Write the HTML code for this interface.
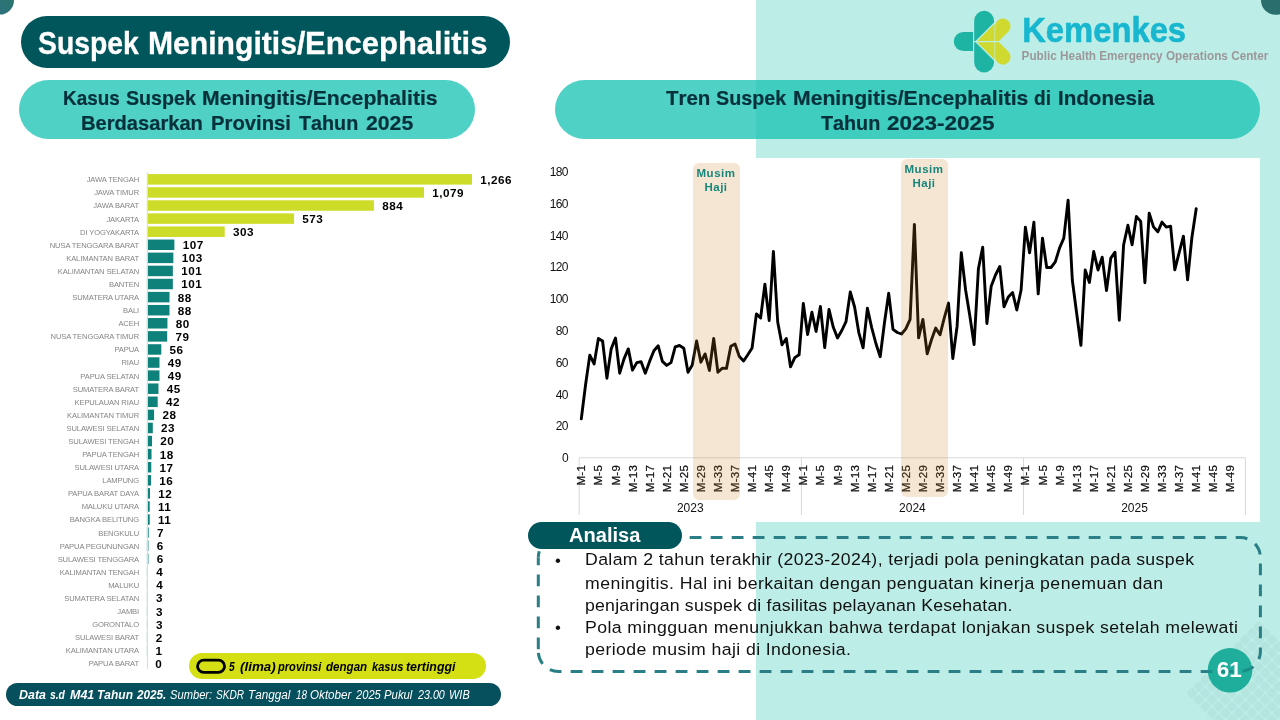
<!DOCTYPE html>
<html lang="id">
<head>
<meta charset="utf-8">
<title>Suspek Meningitis/Encephalitis</title>
<style>
html,body{margin:0;padding:0;}
body{width:1280px;height:720px;overflow:hidden;background:#fff;position:relative;font-family:"Liberation Sans",sans-serif;}
.abs{position:absolute;}
.mint{left:756px;top:0;width:524px;height:720px;background:#bdede7;}
.panel{left:545px;top:157.5px;width:715px;height:364px;background:#fff;}
.pill{border-radius:999px;}
.title{left:21px;top:16px;width:489px;height:52px;background:#00565a;}
.sub1{left:19px;top:80px;width:456px;height:59px;background:rgba(17,193,177,0.74);}
.sub2{left:555px;top:80px;width:704.7px;height:59px;background:rgba(17,193,177,0.74);}
.t{white-space:nowrap;transform-origin:0 0;line-height:1;font-kerning:none;}
.ttl{color:#fff;font-weight:bold;-webkit-text-stroke:0.3px #fff;}
.leg{color:#000;font-weight:bold;font-style:italic;}
.fta{color:#fff;font-weight:bold;font-style:italic;}
.ftb{color:#fff;font-style:italic;}
.ana{color:#fff;font-weight:bold;}
.subt{color:#06303a;font-weight:bold;-webkit-text-stroke:0.2px #06303a;}
.legend{left:189.2px;top:653.1px;width:296.8px;height:25.7px;background:#d5e014;}
.footer{left:6px;top:683px;width:495px;height:23px;background:#064f5c;}
.analisa{left:528px;top:522px;width:154px;height:26.5px;background:#00565a;}
.badge{left:1207.7px;top:648px;width:44.6px;height:44.6px;border-radius:50%;}
svg text.pl{font-size:7.6px;fill:#858585;letter-spacing:-0.13px;}
svg text.pv{font-size:11.7px;font-weight:bold;fill:#000;letter-spacing:0.5px;}
svg text.ax{font-size:12px;fill:#111;}
svg text.ay{letter-spacing:-0.55px;}
svg text.axr{stroke:#111;stroke-width:0.25px;font-size:11.5px;letter-spacing:0.3px;}
svg text.mh{font-size:11.5px;font-weight:bold;fill:#17857c;letter-spacing:0.5px;}
.body{color:#111;font-size:16.7px;}
</style>
</head>
<body>
<div class="abs mint"></div>
<div class="abs panel"></div>

<div class="abs pill title"></div>
<div class="abs pill sub1"></div>
<div class="abs pill sub2"></div>
<div><span class="abs t ttl" id="tt0" style="left:37.93px;transform:scaleX(0.9140);top:27.80px;font-size:31px;">Suspek</span> <span class="abs t ttl" id="tt1" style="left:147.98px;transform:scaleX(0.9717);top:27.80px;font-size:31px;">Meningitis/</span> <span class="abs t ttl" id="tt2" style="left:305.43px;transform:scaleX(0.9991);top:27.80px;font-size:31px;">Encephalitis</span></div>
<div><span class="abs t subt" id="sa0" style="left:63.14px;transform:scaleX(0.9596);top:88.65px;font-size:19.7px;">Kasus</span> <span class="abs t subt" id="sa1" style="left:125.68px;transform:scaleX(0.9975);top:88.65px;font-size:19.7px;">Suspek</span> <span class="abs t subt" id="sa2" style="left:201.98px;transform:scaleX(1.0770);top:88.65px;font-size:19.7px;">Meningitis/Encephalitis</span> <span class="abs t subt" id="sb0" style="left:81.15px;transform:scaleX(1.0220);top:113.65px;font-size:19.7px;">Berdasarkan</span> <span class="abs t subt" id="sb1" style="left:211.44px;transform:scaleX(1.0291);top:113.65px;font-size:19.7px;">Provinsi</span> <span class="abs t subt" id="sb2" style="left:299.48px;transform:scaleX(1.0026);top:113.65px;font-size:19.7px;">Tahun</span> <span class="abs t subt" id="sb3" style="left:366.16px;transform:scaleX(1.0776);top:113.65px;font-size:19.7px;">2025</span></div>
<div><span class="abs t subt" id="sc0" style="left:665.67px;transform:scaleX(1.0401);top:88.65px;font-size:19.7px;">Tren</span> <span class="abs t subt" id="sc1" style="left:716.03px;transform:scaleX(1.0010);top:88.65px;font-size:19.7px;">Suspek</span> <span class="abs t subt" id="sc2" style="left:792.58px;transform:scaleX(1.0757);top:88.65px;font-size:19.7px;">Meningitis/Encephalitis</span> <span class="abs t subt" id="sc3" style="left:1034.22px;transform:scaleX(0.9671);top:88.65px;font-size:19.7px;">di</span> <span class="abs t subt" id="sc4" style="left:1057.82px;transform:scaleX(1.0457);top:88.65px;font-size:19.7px;">Indonesia</span> <span class="abs t subt" id="sd0" style="left:820.68px;transform:scaleX(1.0035);top:113.65px;font-size:19.7px;">Tahun</span> <span class="abs t subt" id="sd1" style="left:886.92px;transform:scaleX(1.1433);top:113.65px;font-size:19.7px;">2023-2025</span></div>

<svg class="abs" style="left:0;top:0" width="1280" height="720" viewBox="0 0 1280 720" font-family="'Liberation Sans',sans-serif">
<g fill="rgba(70,125,125,0.07)"><rect x="1254.4" y="622.3" width="8.4" height="8.4" rx="2.4" transform="rotate(45 1258.6 626.5)"/><rect x="1247.8" y="629.0" width="8.4" height="8.4" rx="2.4" transform="rotate(45 1252.0 633.2)"/><rect x="1241.1" y="635.6" width="8.4" height="8.4" rx="2.4" transform="rotate(45 1245.3 639.8)"/><rect x="1234.5" y="642.3" width="8.4" height="8.4" rx="2.4" transform="rotate(45 1238.7 646.5)"/><rect x="1227.8" y="648.9" width="8.4" height="8.4" rx="2.4" transform="rotate(45 1232.0 653.1)"/><rect x="1221.2" y="655.6" width="8.4" height="8.4" rx="2.4" transform="rotate(45 1225.4 659.8)"/><rect x="1214.5" y="662.2" width="8.4" height="8.4" rx="2.4" transform="rotate(45 1218.7 666.4)"/><rect x="1207.9" y="668.9" width="8.4" height="8.4" rx="2.4" transform="rotate(45 1212.1 673.1)"/><rect x="1201.2" y="675.5" width="8.4" height="8.4" rx="2.4" transform="rotate(45 1205.4 679.7)"/><rect x="1194.6" y="682.2" width="8.4" height="8.4" rx="2.4" transform="rotate(45 1198.8 686.4)"/><rect x="1187.9" y="688.8" width="8.4" height="8.4" rx="2.4" transform="rotate(45 1192.1 693.0)"/><rect x="1261.0" y="629.0" width="8.4" height="8.4" rx="2.4" transform="rotate(45 1265.2 633.2)"/><rect x="1254.4" y="635.6" width="8.4" height="8.4" rx="2.4" transform="rotate(45 1258.6 639.8)"/><rect x="1247.8" y="642.3" width="8.4" height="8.4" rx="2.4" transform="rotate(45 1252.0 646.5)"/><rect x="1241.1" y="648.9" width="8.4" height="8.4" rx="2.4" transform="rotate(45 1245.3 653.1)"/><rect x="1234.5" y="655.6" width="8.4" height="8.4" rx="2.4" transform="rotate(45 1238.7 659.8)"/><rect x="1227.8" y="662.2" width="8.4" height="8.4" rx="2.4" transform="rotate(45 1232.0 666.4)"/><rect x="1221.2" y="668.9" width="8.4" height="8.4" rx="2.4" transform="rotate(45 1225.4 673.1)"/><rect x="1214.5" y="675.5" width="8.4" height="8.4" rx="2.4" transform="rotate(45 1218.7 679.7)"/><rect x="1207.9" y="682.2" width="8.4" height="8.4" rx="2.4" transform="rotate(45 1212.1 686.4)"/><rect x="1201.2" y="688.8" width="8.4" height="8.4" rx="2.4" transform="rotate(45 1205.4 693.0)"/><rect x="1194.6" y="695.4" width="8.4" height="8.4" rx="2.4" transform="rotate(45 1198.8 699.6)"/><rect x="1267.7" y="635.6" width="8.4" height="8.4" rx="2.4" transform="rotate(45 1271.9 639.8)"/><rect x="1261.0" y="642.3" width="8.4" height="8.4" rx="2.4" transform="rotate(45 1265.2 646.5)"/><rect x="1254.4" y="648.9" width="8.4" height="8.4" rx="2.4" transform="rotate(45 1258.6 653.1)"/><rect x="1247.8" y="655.6" width="8.4" height="8.4" rx="2.4" transform="rotate(45 1252.0 659.8)"/><rect x="1241.1" y="662.2" width="8.4" height="8.4" rx="2.4" transform="rotate(45 1245.3 666.4)"/><rect x="1234.5" y="668.9" width="8.4" height="8.4" rx="2.4" transform="rotate(45 1238.7 673.1)"/><rect x="1227.8" y="675.5" width="8.4" height="8.4" rx="2.4" transform="rotate(45 1232.0 679.7)"/><rect x="1221.2" y="682.2" width="8.4" height="8.4" rx="2.4" transform="rotate(45 1225.4 686.4)"/><rect x="1214.5" y="688.8" width="8.4" height="8.4" rx="2.4" transform="rotate(45 1218.7 693.0)"/><rect x="1207.9" y="695.4" width="8.4" height="8.4" rx="2.4" transform="rotate(45 1212.1 699.6)"/><rect x="1201.2" y="702.1" width="8.4" height="8.4" rx="2.4" transform="rotate(45 1205.4 706.3)"/><rect x="1274.3" y="642.3" width="8.4" height="8.4" rx="2.4" transform="rotate(45 1278.5 646.5)"/><rect x="1267.7" y="648.9" width="8.4" height="8.4" rx="2.4" transform="rotate(45 1271.9 653.1)"/><rect x="1261.0" y="655.6" width="8.4" height="8.4" rx="2.4" transform="rotate(45 1265.2 659.8)"/><rect x="1254.4" y="662.2" width="8.4" height="8.4" rx="2.4" transform="rotate(45 1258.6 666.4)"/><rect x="1247.8" y="668.9" width="8.4" height="8.4" rx="2.4" transform="rotate(45 1252.0 673.1)"/><rect x="1241.1" y="675.5" width="8.4" height="8.4" rx="2.4" transform="rotate(45 1245.3 679.7)"/><rect x="1234.5" y="682.2" width="8.4" height="8.4" rx="2.4" transform="rotate(45 1238.7 686.4)"/><rect x="1227.8" y="688.8" width="8.4" height="8.4" rx="2.4" transform="rotate(45 1232.0 693.0)"/><rect x="1221.2" y="695.4" width="8.4" height="8.4" rx="2.4" transform="rotate(45 1225.4 699.6)"/><rect x="1214.5" y="702.1" width="8.4" height="8.4" rx="2.4" transform="rotate(45 1218.7 706.3)"/><rect x="1207.9" y="708.7" width="8.4" height="8.4" rx="2.4" transform="rotate(45 1212.1 712.9)"/><rect x="1281.0" y="648.9" width="8.4" height="8.4" rx="2.4" transform="rotate(45 1285.2 653.1)"/><rect x="1274.3" y="655.6" width="8.4" height="8.4" rx="2.4" transform="rotate(45 1278.5 659.8)"/><rect x="1267.7" y="662.2" width="8.4" height="8.4" rx="2.4" transform="rotate(45 1271.9 666.4)"/><rect x="1261.0" y="668.9" width="8.4" height="8.4" rx="2.4" transform="rotate(45 1265.2 673.1)"/><rect x="1254.4" y="675.5" width="8.4" height="8.4" rx="2.4" transform="rotate(45 1258.6 679.7)"/><rect x="1247.8" y="682.2" width="8.4" height="8.4" rx="2.4" transform="rotate(45 1252.0 686.4)"/><rect x="1241.1" y="688.8" width="8.4" height="8.4" rx="2.4" transform="rotate(45 1245.3 693.0)"/><rect x="1234.5" y="695.4" width="8.4" height="8.4" rx="2.4" transform="rotate(45 1238.7 699.6)"/><rect x="1227.8" y="702.1" width="8.4" height="8.4" rx="2.4" transform="rotate(45 1232.0 706.3)"/><rect x="1221.2" y="708.7" width="8.4" height="8.4" rx="2.4" transform="rotate(45 1225.4 712.9)"/><rect x="1214.5" y="715.4" width="8.4" height="8.4" rx="2.4" transform="rotate(45 1218.7 719.6)"/><rect x="1281.0" y="662.2" width="8.4" height="8.4" rx="2.4" transform="rotate(45 1285.2 666.4)"/><rect x="1274.3" y="668.9" width="8.4" height="8.4" rx="2.4" transform="rotate(45 1278.5 673.1)"/><rect x="1267.7" y="675.5" width="8.4" height="8.4" rx="2.4" transform="rotate(45 1271.9 679.7)"/><rect x="1261.0" y="682.2" width="8.4" height="8.4" rx="2.4" transform="rotate(45 1265.2 686.4)"/><rect x="1254.4" y="688.8" width="8.4" height="8.4" rx="2.4" transform="rotate(45 1258.6 693.0)"/><rect x="1247.8" y="695.4" width="8.4" height="8.4" rx="2.4" transform="rotate(45 1252.0 699.6)"/><rect x="1241.1" y="702.1" width="8.4" height="8.4" rx="2.4" transform="rotate(45 1245.3 706.3)"/><rect x="1234.5" y="708.7" width="8.4" height="8.4" rx="2.4" transform="rotate(45 1238.7 712.9)"/><rect x="1227.8" y="715.4" width="8.4" height="8.4" rx="2.4" transform="rotate(45 1232.0 719.6)"/><rect x="1221.2" y="722.0" width="8.4" height="8.4" rx="2.4" transform="rotate(45 1225.4 726.2)"/><rect x="1281.0" y="675.5" width="8.4" height="8.4" rx="2.4" transform="rotate(45 1285.2 679.7)"/><rect x="1274.3" y="682.2" width="8.4" height="8.4" rx="2.4" transform="rotate(45 1278.5 686.4)"/><rect x="1267.7" y="688.8" width="8.4" height="8.4" rx="2.4" transform="rotate(45 1271.9 693.0)"/><rect x="1261.0" y="695.4" width="8.4" height="8.4" rx="2.4" transform="rotate(45 1265.2 699.6)"/><rect x="1254.4" y="702.1" width="8.4" height="8.4" rx="2.4" transform="rotate(45 1258.6 706.3)"/><rect x="1247.8" y="708.7" width="8.4" height="8.4" rx="2.4" transform="rotate(45 1252.0 712.9)"/><rect x="1241.1" y="715.4" width="8.4" height="8.4" rx="2.4" transform="rotate(45 1245.3 719.6)"/><rect x="1234.5" y="722.0" width="8.4" height="8.4" rx="2.4" transform="rotate(45 1238.7 726.2)"/><rect x="1281.0" y="688.8" width="8.4" height="8.4" rx="2.4" transform="rotate(45 1285.2 693.0)"/><rect x="1274.3" y="695.4" width="8.4" height="8.4" rx="2.4" transform="rotate(45 1278.5 699.6)"/><rect x="1267.7" y="702.1" width="8.4" height="8.4" rx="2.4" transform="rotate(45 1271.9 706.3)"/><rect x="1261.0" y="708.7" width="8.4" height="8.4" rx="2.4" transform="rotate(45 1265.2 712.9)"/><rect x="1254.4" y="715.4" width="8.4" height="8.4" rx="2.4" transform="rotate(45 1258.6 719.6)"/><rect x="1247.8" y="722.0" width="8.4" height="8.4" rx="2.4" transform="rotate(45 1252.0 726.2)"/><rect x="1281.0" y="702.1" width="8.4" height="8.4" rx="2.4" transform="rotate(45 1285.2 706.3)"/><rect x="1274.3" y="708.7" width="8.4" height="8.4" rx="2.4" transform="rotate(45 1278.5 712.9)"/><rect x="1267.7" y="715.4" width="8.4" height="8.4" rx="2.4" transform="rotate(45 1271.9 719.6)"/><rect x="1261.0" y="722.0" width="8.4" height="8.4" rx="2.4" transform="rotate(45 1265.2 726.2)"/><rect x="1281.0" y="715.4" width="8.4" height="8.4" rx="2.4" transform="rotate(45 1285.2 719.6)"/><rect x="1274.3" y="722.0" width="8.4" height="8.4" rx="2.4" transform="rotate(45 1278.5 726.2)"/></g>
<!-- corner circles -->
<defs><linearGradient id="cg" x1="0" y1="1" x2="1" y2="0"><stop offset="0" stop-color="#2f6c84"/><stop offset="1" stop-color="#287a69"/></linearGradient></defs>
<circle cx="-0.3" cy="0.3" r="14.3" fill="url(#cg)"/>
<circle cx="1275.5" cy="0.3" r="14.5" fill="#2a6f6d"/>


<!-- logo -->
<g transform="translate(948,6) scale(0.1)">
<path d="M250,260 L153,260 A95,95 0 0 0 153,450 L250,450 Z" fill="#1eb4a4"/>
<path d="M262,147 A99,99 0 0 1 460,147 L460,165 L275,350 L262,350 Z" fill="#1eb4a4"/>
<path d="M262,565 A99,99 0 0 0 460,565 L460,547 L275,362 L262,362 Z" fill="#1eb4a4"/>
<path d="M292,350 L465,177 L465,350 Z" fill="#d0d92f"/>
<path d="M292,362 L465,535 L465,362 Z" fill="#d0d92f"/>
<path d="M472,350 L472,203 A76.5,77 0 1 1 602.4,257.4 L510,350 Z" fill="#d0d92f"/>
<path d="M472,362 L472,509 A76.5,77 0 1 0 602.4,454.6 L510,362 Z" fill="#d0d92f"/>
</g>
<text id="t_kem" x="1022.2" y="41.5" font-size="34.4" font-weight="bold" fill="#17b7cf" stroke="#17b7cf" stroke-width="0.6" stroke-linejoin="round" textLength="163.9" lengthAdjust="spacingAndGlyphs">Kemenkes</text>
<text id="t_phe" x="1021.6" y="59.6" font-size="12" font-weight="bold" fill="#9c9799" textLength="246.8" lengthAdjust="spacingAndGlyphs">Public Health Emergency Operations Center</text>

<!-- bar chart -->
<rect x="146.9" y="174.10" width="325.11" height="10.5" fill="#cddc28"/>
<text class="pl" x="139" y="182.25" text-anchor="end">JAWA TENGAH</text>
<text class="pv" x="480.31" y="183.75">1,266</text>
<rect x="146.9" y="187.19" width="277.09" height="10.5" fill="#cddc28"/>
<text class="pl" x="139" y="195.34" text-anchor="end">JAWA TIMUR</text>
<text class="pv" x="432.29" y="196.84">1,079</text>
<rect x="146.9" y="200.27" width="227.01" height="10.5" fill="#cddc28"/>
<text class="pl" x="139" y="208.42" text-anchor="end">JAWA BARAT</text>
<text class="pv" x="382.21" y="209.92">884</text>
<rect x="146.9" y="213.35" width="147.15" height="10.5" fill="#cddc28"/>
<text class="pl" x="139" y="221.50" text-anchor="end">JAKARTA</text>
<text class="pv" x="302.35" y="223.00">573</text>
<rect x="146.9" y="226.44" width="77.81" height="10.5" fill="#cddc28"/>
<text class="pl" x="139" y="234.59" text-anchor="end">DI YOGYAKARTA</text>
<text class="pv" x="233.01" y="236.09">303</text>
<rect x="146.9" y="239.53" width="27.48" height="10.5" fill="#0f817b"/>
<text class="pl" x="139" y="247.68" text-anchor="end">NUSA TENGGARA BARAT</text>
<text class="pv" x="182.68" y="249.18">107</text>
<rect x="146.9" y="252.61" width="26.45" height="10.5" fill="#0f817b"/>
<text class="pl" x="139" y="260.76" text-anchor="end">KALIMANTAN BARAT</text>
<text class="pv" x="181.65" y="262.26">103</text>
<rect x="146.9" y="265.69" width="25.94" height="10.5" fill="#0f817b"/>
<text class="pl" x="139" y="273.84" text-anchor="end">KALIMANTAN SELATAN</text>
<text class="pv" x="181.14" y="275.34">101</text>
<rect x="146.9" y="278.78" width="25.94" height="10.5" fill="#0f817b"/>
<text class="pl" x="139" y="286.93" text-anchor="end">BANTEN</text>
<text class="pv" x="181.14" y="288.43">101</text>
<rect x="146.9" y="291.87" width="22.60" height="10.5" fill="#0f817b"/>
<text class="pl" x="139" y="300.01" text-anchor="end">SUMATERA UTARA</text>
<text class="pv" x="177.80" y="301.51">88</text>
<rect x="146.9" y="304.95" width="22.60" height="10.5" fill="#0f817b"/>
<text class="pl" x="139" y="313.10" text-anchor="end">BALI</text>
<text class="pv" x="177.80" y="314.60">88</text>
<rect x="146.9" y="318.03" width="20.54" height="10.5" fill="#0f817b"/>
<text class="pl" x="139" y="326.18" text-anchor="end">ACEH</text>
<text class="pv" x="175.74" y="327.68">80</text>
<rect x="146.9" y="331.12" width="20.29" height="10.5" fill="#0f817b"/>
<text class="pl" x="139" y="339.27" text-anchor="end">NUSA TENGGARA TIMUR</text>
<text class="pv" x="175.49" y="340.77">79</text>
<rect x="146.9" y="344.21" width="14.38" height="10.5" fill="#0f817b"/>
<text class="pl" x="139" y="352.36" text-anchor="end">PAPUA</text>
<text class="pv" x="169.58" y="353.86">56</text>
<rect x="146.9" y="357.29" width="12.58" height="10.5" fill="#0f817b"/>
<text class="pl" x="139" y="365.44" text-anchor="end">RIAU</text>
<text class="pv" x="167.78" y="366.94">49</text>
<rect x="146.9" y="370.38" width="12.58" height="10.5" fill="#0f817b"/>
<text class="pl" x="139" y="378.52" text-anchor="end">PAPUA SELATAN</text>
<text class="pv" x="167.78" y="380.02">49</text>
<rect x="146.9" y="383.46" width="11.56" height="10.5" fill="#0f817b"/>
<text class="pl" x="139" y="391.61" text-anchor="end">SUMATERA BARAT</text>
<text class="pv" x="166.76" y="393.11">45</text>
<rect x="146.9" y="396.55" width="10.79" height="10.5" fill="#0f817b"/>
<text class="pl" x="139" y="404.69" text-anchor="end">KEPULAUAN RIAU</text>
<text class="pv" x="165.99" y="406.19">42</text>
<rect x="146.9" y="409.63" width="7.19" height="10.5" fill="#0f817b"/>
<text class="pl" x="139" y="417.78" text-anchor="end">KALIMANTAN TIMUR</text>
<text class="pv" x="162.39" y="419.28">28</text>
<rect x="146.9" y="422.72" width="5.91" height="10.5" fill="#0f817b"/>
<text class="pl" x="139" y="430.87" text-anchor="end">SULAWESI SELATAN</text>
<text class="pv" x="161.11" y="432.37">23</text>
<rect x="146.9" y="435.80" width="5.14" height="10.5" fill="#0f817b"/>
<text class="pl" x="139" y="443.95" text-anchor="end">SULAWESI TENGAH</text>
<text class="pv" x="160.34" y="445.45">20</text>
<rect x="146.9" y="448.88" width="4.62" height="10.5" fill="#0f817b"/>
<text class="pl" x="139" y="457.03" text-anchor="end">PAPUA TENGAH</text>
<text class="pv" x="159.82" y="458.53">18</text>
<rect x="146.9" y="461.97" width="4.37" height="10.5" fill="#0f817b"/>
<text class="pl" x="139" y="470.12" text-anchor="end">SULAWESI UTARA</text>
<text class="pv" x="159.57" y="471.62">17</text>
<rect x="146.9" y="475.06" width="4.11" height="10.5" fill="#0f817b"/>
<text class="pl" x="139" y="483.21" text-anchor="end">LAMPUNG</text>
<text class="pv" x="159.31" y="484.71">16</text>
<rect x="146.9" y="488.14" width="3.08" height="10.5" fill="#0f817b"/>
<text class="pl" x="139" y="496.29" text-anchor="end">PAPUA BARAT DAYA</text>
<text class="pv" x="158.28" y="497.79">12</text>
<rect x="146.9" y="501.23" width="2.82" height="10.5" fill="#0f817b"/>
<text class="pl" x="139" y="509.38" text-anchor="end">MALUKU UTARA</text>
<text class="pv" x="158.02" y="510.88">11</text>
<rect x="146.9" y="514.31" width="2.82" height="10.5" fill="#0f817b"/>
<text class="pl" x="139" y="522.46" text-anchor="end">BANGKA BELITUNG</text>
<text class="pv" x="158.02" y="523.96">11</text>
<rect x="146.9" y="527.39" width="1.80" height="10.5" fill="#0f817b"/>
<text class="pl" x="139" y="535.54" text-anchor="end">BENGKULU</text>
<text class="pv" x="157.00" y="537.04">7</text>
<rect x="146.9" y="540.48" width="1.54" height="10.5" fill="#0f817b"/>
<text class="pl" x="139" y="548.63" text-anchor="end">PAPUA PEGUNUNGAN</text>
<text class="pv" x="156.74" y="550.13">6</text>
<rect x="146.9" y="553.57" width="1.54" height="10.5" fill="#0f817b"/>
<text class="pl" x="139" y="561.72" text-anchor="end">SULAWESI TENGGARA</text>
<text class="pv" x="156.74" y="563.22">6</text>
<rect x="146.9" y="566.65" width="1.03" height="10.5" fill="#0f817b"/>
<text class="pl" x="139" y="574.80" text-anchor="end">KALIMANTAN TENGAH</text>
<text class="pv" x="156.23" y="576.30">4</text>
<rect x="146.9" y="579.74" width="1.03" height="10.5" fill="#0f817b"/>
<text class="pl" x="139" y="587.88" text-anchor="end">MALUKU</text>
<text class="pv" x="156.23" y="589.38">4</text>
<rect x="146.9" y="592.82" width="0.77" height="10.5" fill="#0f817b"/>
<text class="pl" x="139" y="600.97" text-anchor="end">SUMATERA SELATAN</text>
<text class="pv" x="155.97" y="602.47">3</text>
<rect x="146.9" y="605.90" width="0.77" height="10.5" fill="#0f817b"/>
<text class="pl" x="139" y="614.05" text-anchor="end">JAMBI</text>
<text class="pv" x="155.97" y="615.55">3</text>
<rect x="146.9" y="618.99" width="0.77" height="10.5" fill="#0f817b"/>
<text class="pl" x="139" y="627.14" text-anchor="end">GORONTALO</text>
<text class="pv" x="155.97" y="628.64">3</text>
<rect x="146.9" y="632.08" width="0.51" height="10.5" fill="#0f817b"/>
<text class="pl" x="139" y="640.23" text-anchor="end">SULAWESI BARAT</text>
<text class="pv" x="155.71" y="641.73">2</text>
<rect x="146.9" y="645.16" width="0.26" height="10.5" fill="#0f817b"/>
<text class="pl" x="139" y="653.31" text-anchor="end">KALIMANTAN UTARA</text>
<text class="pv" x="155.46" y="654.81">1</text>
<text class="pl" x="139" y="666.39" text-anchor="end">PAPUA BARAT</text>
<text class="pv" x="155.20" y="667.89">0</text>
<rect x="146.9" y="172" width="1.1" height="497" fill="#dcdcdc"/>

<!-- line chart -->
<line x1="579.2" y1="457.8" x2="1245.5" y2="457.8" stroke="#d9d9d9" stroke-width="1"/>
<line x1="579.2" y1="457.8" x2="579.2" y2="515" stroke="#d9d9d9" stroke-width="1"/>
<line x1="801.4" y1="457.8" x2="801.4" y2="515" stroke="#d9d9d9" stroke-width="1"/>
<line x1="1023.5" y1="457.8" x2="1023.5" y2="515" stroke="#d9d9d9" stroke-width="1"/>
<line x1="1245.5" y1="457.8" x2="1245.5" y2="515" stroke="#d9d9d9" stroke-width="1"/>
<text class="ax ay" x="568" y="462.1" text-anchor="end">0</text>
<text class="ax ay" x="568" y="430.3" text-anchor="end">20</text>
<text class="ax ay" x="568" y="398.5" text-anchor="end">40</text>
<text class="ax ay" x="568" y="366.7" text-anchor="end">60</text>
<text class="ax ay" x="568" y="334.9" text-anchor="end">80</text>
<text class="ax ay" x="568" y="303.1" text-anchor="end">100</text>
<text class="ax ay" x="568" y="271.3" text-anchor="end">120</text>
<text class="ax ay" x="568" y="239.5" text-anchor="end">140</text>
<text class="ax ay" x="568" y="207.7" text-anchor="end">160</text>
<text class="ax ay" x="568" y="175.9" text-anchor="end">180</text>
<text class="ax axr" transform="translate(585.3,464.8) rotate(-90)" text-anchor="end">M-1</text>
<text class="ax axr" transform="translate(602.4,464.8) rotate(-90)" text-anchor="end">M-5</text>
<text class="ax axr" transform="translate(619.5,464.8) rotate(-90)" text-anchor="end">M-9</text>
<text class="ax axr" transform="translate(636.5,464.8) rotate(-90)" text-anchor="end">M-13</text>
<text class="ax axr" transform="translate(653.6,464.8) rotate(-90)" text-anchor="end">M-17</text>
<text class="ax axr" transform="translate(670.7,464.8) rotate(-90)" text-anchor="end">M-21</text>
<text class="ax axr" transform="translate(687.8,464.8) rotate(-90)" text-anchor="end">M-25</text>
<text class="ax axr" transform="translate(704.9,464.8) rotate(-90)" text-anchor="end">M-29</text>
<text class="ax axr" transform="translate(721.9,464.8) rotate(-90)" text-anchor="end">M-33</text>
<text class="ax axr" transform="translate(739.0,464.8) rotate(-90)" text-anchor="end">M-37</text>
<text class="ax axr" transform="translate(756.1,464.8) rotate(-90)" text-anchor="end">M-41</text>
<text class="ax axr" transform="translate(773.2,464.8) rotate(-90)" text-anchor="end">M-45</text>
<text class="ax axr" transform="translate(790.3,464.8) rotate(-90)" text-anchor="end">M-49</text>
<text class="ax axr" transform="translate(807.3,464.8) rotate(-90)" text-anchor="end">M-1</text>
<text class="ax axr" transform="translate(824.4,464.8) rotate(-90)" text-anchor="end">M-5</text>
<text class="ax axr" transform="translate(841.5,464.8) rotate(-90)" text-anchor="end">M-9</text>
<text class="ax axr" transform="translate(858.6,464.8) rotate(-90)" text-anchor="end">M-13</text>
<text class="ax axr" transform="translate(875.7,464.8) rotate(-90)" text-anchor="end">M-17</text>
<text class="ax axr" transform="translate(892.7,464.8) rotate(-90)" text-anchor="end">M-21</text>
<text class="ax axr" transform="translate(909.8,464.8) rotate(-90)" text-anchor="end">M-25</text>
<text class="ax axr" transform="translate(926.9,464.8) rotate(-90)" text-anchor="end">M-29</text>
<text class="ax axr" transform="translate(944.0,464.8) rotate(-90)" text-anchor="end">M-33</text>
<text class="ax axr" transform="translate(961.1,464.8) rotate(-90)" text-anchor="end">M-37</text>
<text class="ax axr" transform="translate(978.1,464.8) rotate(-90)" text-anchor="end">M-41</text>
<text class="ax axr" transform="translate(995.2,464.8) rotate(-90)" text-anchor="end">M-45</text>
<text class="ax axr" transform="translate(1012.3,464.8) rotate(-90)" text-anchor="end">M-49</text>
<text class="ax axr" transform="translate(1029.4,464.8) rotate(-90)" text-anchor="end">M-1</text>
<text class="ax axr" transform="translate(1046.5,464.8) rotate(-90)" text-anchor="end">M-5</text>
<text class="ax axr" transform="translate(1063.5,464.8) rotate(-90)" text-anchor="end">M-9</text>
<text class="ax axr" transform="translate(1080.6,464.8) rotate(-90)" text-anchor="end">M-13</text>
<text class="ax axr" transform="translate(1097.7,464.8) rotate(-90)" text-anchor="end">M-17</text>
<text class="ax axr" transform="translate(1114.8,464.8) rotate(-90)" text-anchor="end">M-21</text>
<text class="ax axr" transform="translate(1131.9,464.8) rotate(-90)" text-anchor="end">M-25</text>
<text class="ax axr" transform="translate(1148.9,464.8) rotate(-90)" text-anchor="end">M-29</text>
<text class="ax axr" transform="translate(1166.0,464.8) rotate(-90)" text-anchor="end">M-33</text>
<text class="ax axr" transform="translate(1183.1,464.8) rotate(-90)" text-anchor="end">M-37</text>
<text class="ax axr" transform="translate(1200.2,464.8) rotate(-90)" text-anchor="end">M-41</text>
<text class="ax axr" transform="translate(1217.3,464.8) rotate(-90)" text-anchor="end">M-45</text>
<text class="ax axr" transform="translate(1234.3,464.8) rotate(-90)" text-anchor="end">M-49</text>
<text class="ax" x="690.3" y="512" text-anchor="middle">2023</text>
<text class="ax" x="912.4" y="512" text-anchor="middle">2024</text>
<text class="ax" x="1134.5" y="512" text-anchor="middle">2025</text>
<polyline points="581.3,418.9 585.6,384.5 589.8,355.1 594.1,363.9 598.4,338.5 602.6,341.0 606.9,378.2 611.2,348.9 615.5,338.0 619.7,373.2 624.0,358.9 628.3,348.9 632.5,370.1 636.8,362.6 641.1,361.8 645.3,373.2 649.6,361.4 653.9,350.8 658.2,345.8 662.4,361.4 666.7,365.4 671.0,362.6 675.2,346.8 679.5,345.5 683.8,348.2 688.0,372.2 692.3,365.1 696.6,341.0 700.9,362.2 705.1,353.9 709.4,370.5 713.7,338.5 717.9,372.2 722.2,368.2 726.5,368.4 730.8,346.2 735.0,344.0 739.3,356.4 743.6,361.0 747.8,354.8 752.1,348.0 756.4,313.9 760.6,318.0 764.9,284.1 769.2,320.5 773.4,251.4 777.7,322.0 782.0,344.8 786.3,338.5 790.5,366.8 794.8,357.6 799.1,354.8 803.3,303.5 807.6,334.5 811.9,312.2 816.1,331.5 820.4,306.4 824.7,347.6 829.0,309.4 833.2,327.0 837.5,337.9 841.8,330.5 846.0,321.7 850.3,292.0 854.6,307.0 858.8,332.6 863.1,347.8 867.4,308.2 871.7,327.6 875.9,343.5 880.2,356.7 884.5,322.5 888.7,293.3 893.0,329.4 897.3,332.5 901.5,334.0 905.8,328.8 910.1,319.4 914.4,224.4 918.6,337.9 922.9,319.4 927.2,353.8 931.4,340.0 935.7,328.1 940.0,334.8 944.2,318.1 948.5,303.1 952.8,358.5 957.1,326.2 961.3,252.8 965.6,290.0 969.9,316.2 974.1,344.5 978.4,268.8 982.7,247.2 986.9,323.5 991.2,286.2 995.5,275.0 999.8,266.5 1004.0,306.9 1008.3,297.0 1012.6,292.5 1016.8,310.0 1021.1,290.0 1025.4,227.2 1029.6,252.8 1033.9,222.2 1038.2,293.8 1042.5,238.2 1046.7,267.5 1051.0,267.5 1055.3,261.9 1059.5,248.1 1063.8,238.1 1068.1,200.2 1072.3,280.0 1076.6,312.7 1080.9,345.4 1085.2,270.0 1089.4,282.5 1093.7,251.5 1098.0,270.0 1102.2,257.2 1106.5,290.6 1110.8,258.1 1115.0,252.2 1119.3,320.2 1123.6,245.0 1127.9,225.2 1132.1,244.8 1136.4,216.4 1140.7,221.4 1144.9,282.7 1149.2,213.2 1153.5,226.9 1157.8,231.8 1162.0,222.1 1166.3,227.1 1170.6,226.2 1174.8,269.9 1179.1,252.8 1183.4,236.2 1187.6,279.8 1191.9,237.5 1196.2,208.8" fill="none" stroke="#000" stroke-width="2.9" stroke-linejoin="round" stroke-linecap="round"/>
<rect x="693" y="163" width="47" height="337" rx="6" fill="rgba(205,130,35,0.2)"/>
<rect x="901" y="159" width="47" height="338" rx="6" fill="rgba(205,130,35,0.2)"/>
<text class="mh" x="716" y="176.8" text-anchor="middle">Musim</text>
<text class="mh" x="716" y="190.6" text-anchor="middle">Haji</text>
<text class="mh" x="924" y="172.8" text-anchor="middle">Musim</text>
<text class="mh" x="924" y="186.6" text-anchor="middle">Haji</text>
</svg>

<div class="abs pill legend">
</div>
<div><span class="abs t leg" id="lg0" style="left:229.40px;transform:scaleX(0.8106);top:660.70px;font-size:12.6px;">5</span> <span class="abs t leg" id="lg1" style="left:239.72px;transform:scaleX(1.0647);top:660.70px;font-size:12.6px;">(lima)</span> <span class="abs t leg" id="lg2" style="left:278.44px;transform:scaleX(0.8828);top:660.70px;font-size:12.6px;">provinsi</span> <span class="abs t leg" id="lg3" style="left:326.27px;transform:scaleX(0.9200);top:660.70px;font-size:12.6px;">dengan</span> <span class="abs t leg" id="lg4" style="left:371.51px;transform:scaleX(0.8808);top:660.70px;font-size:12.6px;">kasus</span> <span class="abs t leg" id="lg5" style="left:405.88px;transform:scaleX(0.9824);top:660.70px;font-size:12.6px;">tertinggi</span></div>
<div class="abs pill footer"></div>
<div><span class="abs t fta" id="fa0" style="left:18.98px;transform:scaleX(1.0374);top:688.90px;font-size:12px;">Data</span> <span class="abs t fta" id="fa1" style="left:50.18px;transform:scaleX(0.8617);top:688.90px;font-size:12px;">s.d</span> <span class="abs t fta" id="fa2" style="left:69.78px;transform:scaleX(1.0405);top:688.90px;font-size:12px;">M41</span> <span class="abs t fta" id="fa3" style="left:96.95px;transform:scaleX(0.9988);top:688.90px;font-size:12px;">Tahun</span> <span class="abs t fta" id="fa4" style="left:137.18px;transform:scaleX(0.9763);top:688.90px;font-size:12px;">2025.</span> <span class="abs t ftb" id="fb0" style="left:169.88px;transform:scaleX(0.9297);top:688.90px;font-size:12px;">Sumber:</span> <span class="abs t ftb" id="fb1" style="left:216.01px;transform:scaleX(0.8397);top:688.90px;font-size:12px;">SKDR</span> <span class="abs t ftb" id="fb2" style="left:247.55px;transform:scaleX(0.9775);top:688.90px;font-size:12px;">Tanggal</span> <span class="abs t ftb" id="fb3" style="left:295.64px;transform:scaleX(0.8252);top:688.90px;font-size:12px;">18</span> <span class="abs t ftb" id="fb4" style="left:309.57px;transform:scaleX(0.9708);top:688.90px;font-size:12px;">Oktober</span> <span class="abs t ftb" id="fb5" style="left:355.87px;transform:scaleX(0.9293);top:688.90px;font-size:12px;">2025</span> <span class="abs t ftb" id="fb6" style="left:384.45px;transform:scaleX(0.9459);top:688.90px;font-size:12px;">Pukul</span> <span class="abs t ftb" id="fb7" style="left:417.76px;transform:scaleX(0.8933);top:688.90px;font-size:12px;">23.00</span> <span class="abs t ftb" id="fb8" style="left:449.15px;transform:scaleX(0.9144);top:688.90px;font-size:12px;">WIB</span></div>

<!-- analysis box -->
<svg class="abs" style="left:0;top:0" width="1280" height="720" viewBox="0 0 1280 720">
<defs><clipPath id="bclip"><circle cx="1230" cy="670.3" r="22.3"/></clipPath></defs>
<path d="M538.3,557.5 A20,20 0 0 1 558.3,537.5 H1240.4 A20,20 0 0 1 1260.4,557.5 V651.4 A20,20 0 0 1 1240.4,671.4 H558.3 A20,20 0 0 1 538.3,651.4" fill="none" stroke="#2a7f86" stroke-width="3" stroke-dasharray="11.8 9.2" stroke-dashoffset="5.4"/>
<path d="M538.3,651.4 V557.5" fill="none" stroke="#2a7f86" stroke-width="3" stroke-dasharray="11.8 9.2" stroke-dashoffset="18.8"/>
<circle cx="1230" cy="670.3" r="22.3" fill="#1fae9c"/>
<rect x="197.55" y="660.1" width="27" height="12.3" rx="6.15" fill="none" stroke="#000" stroke-width="2.8"/>
<g clip-path="url(#bclip)" opacity="0.55"><path d="M538.3,557.5 A20,20 0 0 1 558.3,537.5 H1240.4 A20,20 0 0 1 1260.4,557.5 V651.4 A20,20 0 0 1 1240.4,671.4 H558.3 A20,20 0 0 1 538.3,651.4" fill="none" stroke="#14757a" stroke-width="3" stroke-dasharray="11.8 9.2" stroke-dashoffset="5.4"/></g>
</svg>
<div class="abs pill analisa"></div><span class="abs t ana" id="an0" style="left:568.90px;transform:scaleX(1.0046);top:525.00px;font-size:20px;">Analisa</span>
<div class="abs t body" id="b0" style="left:555px;top:552.6px;">•</div>
<div class="abs t body" id="b1" style="transform:scaleX(1.06);letter-spacing:0.344px;left:585px;top:552.3px;">Dalam 2 tahun terakhir (2023-2024), terjadi pola peningkatan pada suspek</div>
<div class="abs t body" id="b2" style="transform:scaleX(1.06);letter-spacing:0.418px;left:585px;top:576.2px;">meningitis. Hal ini berkaitan dengan penguatan kinerja penemuan dan</div>
<div class="abs t body" id="b3" style="transform:scaleX(1.06);letter-spacing:0.195px;left:585px;top:598px;">penjaringan suspek di fasilitas pelayanan Kesehatan.</div>
<div class="abs t body" id="b4" style="left:555px;top:619.8px;">•</div>
<div class="abs t body" id="b5" style="transform:scaleX(1.06);letter-spacing:0.387px;left:585px;top:619.8px;">Pola mingguan menunjukkan bahwa terdapat lonjakan suspek setelah melewati</div>
<div class="abs t body" id="b6" style="transform:scaleX(1.06);letter-spacing:0.375px;left:585px;top:641.9px;">periode musim haji di Indonesia.</div>

<div class="abs badge"><div class="abs t" id="t_badge" style="left:9px;top:10.5px;color:#fff;font-weight:bold;font-size:22.5px;">61</div></div>
</body>
</html>
